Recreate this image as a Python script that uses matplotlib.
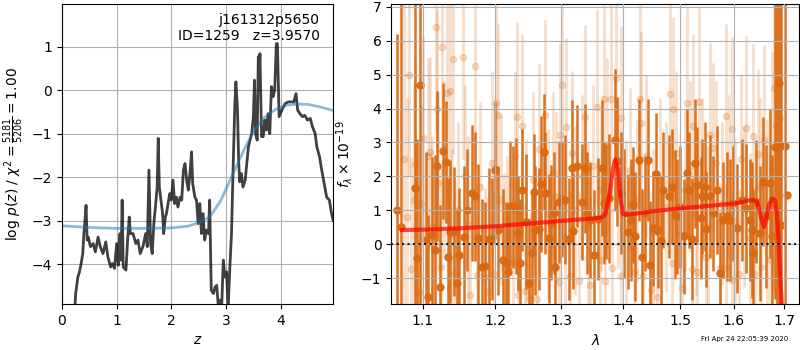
import matplotlib
matplotlib.use('Agg')
import matplotlib.pyplot as plt
from matplotlib.ticker import ScalarFormatter, NullLocator

# redshift fit, log p(z)
zgrid = [0.23, 0.25, 0.29, 0.32, 0.35, 0.38, 0.40, 0.42, 0.44, 0.46, 0.48, 0.52, 0.57, 0.61,
         0.66, 0.70, 0.75, 0.80, 0.84, 0.89, 0.92, 0.96, 1.00, 1.03, 1.06, 1.08, 1.10, 1.12,
         1.17, 1.20, 1.23, 1.25, 1.30, 1.35, 1.39, 1.43, 1.48, 1.53, 1.56, 1.59, 1.62, 1.65,
         1.68, 1.72, 1.74, 1.76, 1.78, 1.81, 1.84, 1.86, 1.89, 1.91, 1.94, 1.97, 2.00, 2.03,
         2.06, 2.09, 2.12, 2.16, 2.19, 2.22, 2.25, 2.28, 2.31, 2.34, 2.37, 2.39, 2.43, 2.46,
         2.49, 2.52, 2.55, 2.58, 2.61, 2.64, 2.68, 2.70, 2.73, 2.77, 2.80, 2.83, 2.86, 2.89,
         2.92, 2.95, 2.98, 3.01, 3.04, 3.07, 3.10, 3.13, 3.16, 3.18, 3.21, 3.23, 3.25, 3.28,
         3.31, 3.35, 3.38, 3.41, 3.44, 3.47, 3.50, 3.52, 3.54, 3.57, 3.59, 3.61, 3.62, 3.65,
         3.68, 3.71, 3.74, 3.77, 3.80, 3.83, 3.86, 3.89, 3.92, 3.94, 3.97, 4.02, 4.08, 4.14,
         4.20, 4.24, 4.28, 4.31, 4.35, 4.40, 4.44, 4.49, 4.54, 4.58, 4.63, 4.66, 4.71, 4.75,
         4.79, 4.84, 4.89, 4.93, 4.96]
logpz = [-5.10, -4.68, -4.30, -4.18, -3.99, -3.76, -3.30, -3.00, -2.65, -3.45, -3.38, -3.60,
         -3.53, -3.72, -3.38, -3.60, -3.76, -3.49, -3.84, -4.07, -3.99, -4.10, -3.53, -4.03,
         -3.30, -3.91, -2.53, -4.07, -4.14, -3.45, -2.92, -3.30, -3.30, -3.53, -3.45, -3.76,
         -3.60, -3.30, -3.60, -1.84, -3.53, -3.76, -3.07, -2.53, -2.23, -1.11, -2.23, -2.53,
         -2.84, -3.30, -2.92, -2.84, -2.61, -2.38, -2.53, -2.07, -2.61, -2.46, -2.69, -2.46,
         -2.53, -1.84, -1.69, -2.07, -2.30, -1.92, -1.42, -2.15, -2.46, -2.53, -3.07, -2.61,
         -3.30, -2.84, -3.45, -3.22, -3.30, -2.53, -4.60, -4.68, -4.53, -4.49, -5.00, -4.83,
         -5.00, -3.91, -4.30, -4.18, -5.00, -4.07, -3.30, -1.77, -0.38, 0.19, -0.46, -1.61,
         -2.11, -1.92, -2.23, -2.07, -1.69, -1.30, -1.15, -1.00, -0.61, 0.23, -1.00, -1.15,
         0.77, 0.54, 0.84, -1.07, -1.07, -0.69, -0.92, -0.54, -1.00, 0.08, -0.15, 0.00,
         1.07, 1.07, -0.61, -0.46, -0.31, -0.27, -0.27, -0.27, -0.08, -0.46, -0.54, -0.61,
         -0.58, -0.69, -0.65, -0.84, -1.00, -1.30, -1.53, -1.84, -2.11, -2.46, -2.53, -2.84,
         -3.00]

# prior
zprior = [0.0, 0.5, 1.0, 1.5, 2.0, 2.3, 2.5, 2.7, 2.9, 3.1, 3.3, 3.5, 3.7, 3.9, 4.1, 4.3,
          4.5, 4.7, 4.96]
logprior = [-3.12, -3.16, -3.18, -3.18, -3.17, -3.13, -3.05, -2.92, -2.55, -2.00, -1.45,
            -0.95, -0.63, -0.45, -0.35, -0.32, -0.33, -0.38, -0.47]

# 1D spectrum, first beam
wave_a = [1.066, 1.071, 1.090, 1.093, 1.097, 1.104, 1.107, 1.112, 1.116, 1.119,
          1.123, 1.127, 1.131, 1.134, 1.137, 1.142, 1.146, 1.149, 1.156, 1.160,
          1.167, 1.171, 1.175, 1.182, 1.186, 1.191, 1.195, 1.200, 1.205, 1.212,
          1.216, 1.219, 1.222, 1.227, 1.231, 1.234, 1.237, 1.240, 1.245, 1.250,
          1.254, 1.257, 1.260, 1.265, 1.269, 1.273, 1.275, 1.281, 1.284, 1.288,
          1.290, 1.296, 1.301, 1.305, 1.312, 1.317, 1.319, 1.325, 1.332, 1.337,
          1.341, 1.346, 1.352, 1.358, 1.365, 1.368, 1.372, 1.376, 1.386, 1.390,
          1.396, 1.402, 1.408, 1.413, 1.417, 1.421, 1.428, 1.432, 1.438, 1.442,
          1.446, 1.452, 1.456, 1.461, 1.465, 1.470, 1.479, 1.485, 1.491, 1.495,
          1.500, 1.506, 1.512, 1.516, 1.521, 1.526, 1.530, 1.537, 1.540, 1.546,
          1.548, 1.555, 1.561, 1.567, 1.574, 1.580, 1.586, 1.593, 1.599, 1.607,
          1.615, 1.624, 1.631, 1.635, 1.638, 1.644, 1.652, 1.658, 1.663, 1.671,
          1.676, 1.681, 1.685, 1.690, 1.694, 1.701, 1.706]
flux_a = [1.00, 0.50, 1.65, -0.41, 4.70, 0.13, -1.54, 0.28, -0.17, 2.31,
          -1.25, 2.75, 2.42, -0.36, 0.37, 0.37, -1.15, -0.33, 0.21, 1.01,
          1.52, 1.41, 0.18, -0.66, -0.64, 0.16, 0.15, 2.19, 0.42, -0.46,
          -0.56, -0.81, 1.13, 1.11, 1.13, 0.32, -0.56, 1.60, 0.67, -1.15,
          -0.27, 1.55, 0.42, 0.44, 1.77, 2.73, 1.50, 0.18, 0.64, 0.91,
          -0.66, 1.25, 1.33, 1.31, 0.15, 2.24, 0.39, 2.31, 1.25, 2.24,
          0.91, 0.72, -0.31, 0.74, 2.24, 1.21, 1.26, 1.36, 3.08, 2.44,
          1.50, 0.91, 0.37, 0.72, 1.16, 0.23, 2.49, -0.36, 0.91, 2.49,
          -0.61, 0.47, 2.06, 0.42, 0.11, 1.60, 1.41, 1.70, 0.87, 0.82,
          1.11, 0.23, 2.09, 1.60, 0.15, 2.39, 1.75, 0.77, 1.41, 1.70,
          0.44, 1.41, 0.91, 1.60, -0.86, 0.72, 0.82, 0.72, 1.21, 0.47,
          1.31, 1.06, 0.72, 0.42, -0.27, 1.26, 0.32, 1.85, 0.82, 1.80,
          0.23, 2.88, 2.88, 4.75, 0.57, 2.90, 1.45]
err_a = [5.2, 9.0, 6.0, 3.5, 6.5, 2.6, 2.4, 2.3, 2.8, 2.2,
         2.4, 2.0, 1.8, 2.3, 2.1, 1.9, 2.2, 2.0, 2.1, 1.8,
         2.0, 1.9, 2.2, 2.0, 1.9, 2.1, 1.8, 2.0, 1.9, 2.1,
         1.8, 2.0, 1.9, 1.8, 2.0, 1.7, 1.9, 1.8, 2.0, 1.9,
         1.8, 1.7, 1.9, 1.8, 2.0, 1.7, 1.8, 1.9, 1.7, 1.8,
         1.9, 1.8, 1.7, 1.9, 1.8, 2.0, 1.7, 1.8, 1.7, 1.9,
         1.8, 1.7, 1.9, 1.8, 2.0, 1.8, 1.7, 1.9, 2.1, 1.9,
         1.8, 1.9, 1.7, 1.8, 1.7, 1.9, 1.8, 2.0, 1.7, 1.8,
         1.9, 1.7, 1.8, 1.7, 1.9, 1.7, 1.8, 1.7, 1.9, 1.7,
         1.8, 1.7, 1.9, 1.7, 1.8, 1.9, 1.7, 1.8, 1.7, 1.9,
         1.7, 1.8, 1.7, 1.9, 1.8, 1.7, 1.9, 1.8, 1.7, 1.9,
         1.8, 1.9, 1.8, 2.0, 1.9, 1.8, 2.0, 1.9, 2.1, 2.2,
         2.4, 4.5, 8.0, 8.0, 8.0, 8.0, 0.0]

# second beam
wave_b = [1.075, 1.079, 1.0815, 1.085, 1.088, 1.090, 1.095, 1.098, 1.101, 1.107,
          1.109, 1.113, 1.118, 1.119, 1.121, 1.124, 1.126, 1.129, 1.132, 1.137,
          1.139, 1.141, 1.144, 1.148, 1.154, 1.158, 1.162, 1.165, 1.1715, 1.174,
          1.178, 1.185, 1.190, 1.195, 1.198, 1.2015, 1.205, 1.209, 1.213, 1.218,
          1.226, 1.229, 1.232, 1.234, 1.240, 1.244, 1.246, 1.252, 1.256, 1.262,
          1.266, 1.274, 1.279, 1.287, 1.292, 1.296, 1.298, 1.301, 1.305, 1.307,
          1.314, 1.317, 1.322, 1.327, 1.333, 1.337, 1.342, 1.345, 1.350, 1.357,
          1.361, 1.364, 1.368, 1.370, 1.374, 1.380, 1.382, 1.389, 1.392, 1.396,
          1.397, 1.405, 1.412, 1.419, 1.424, 1.429, 1.431, 1.435, 1.440, 1.448,
          1.452, 1.458, 1.463, 1.474, 1.482, 1.486, 1.4875, 1.493, 1.500, 1.504,
          1.509, 1.513, 1.518, 1.522, 1.524, 1.528, 1.531, 1.535, 1.540, 1.548,
          1.551, 1.555, 1.561, 1.566, 1.574, 1.578, 1.584, 1.585, 1.590, 1.596,
          1.597, 1.603, 1.609, 1.614, 1.620, 1.624, 1.631, 1.638, 1.642, 1.647,
          1.651, 1.654, 1.660, 1.665, 1.671, 1.676, 1.680, 1.684, 1.688, 1.692]
flux_b = [2.50, 0.80, 5.00, -0.74, 1.30, 2.36, -1.40, 1.20, 3.13, 2.60,
          2.73, 0.50, 6.40, 4.00, 1.80, -0.66, 5.81, 2.20, 4.47, 4.53,
          0.30, 5.46, -0.85, 1.00, 5.52, 2.00, 0.60, -1.49, 5.26, -0.90,
          1.70, -0.95, -1.40, 2.40, -0.87, 4.16, 3.80, 1.30, -0.51, 0.10,
          -0.51, 2.60, 3.75, -1.49, 3.49, -1.38, 0.70, -1.59, 1.90, -1.62,
          2.80, 3.82, 0.90, 2.10, 1.40, -1.10, 3.22, 4.68, 0.20, 3.47,
          -0.93, 2.70, 1.00, -1.07, 2.00, 3.75, 0.50, -1.20, 2.30, 4.04,
          -0.46, 1.60, 4.28, -1.08, 2.90, 4.28, -0.69, 4.90, 1.80, -0.93,
          3.72, 0.60, 2.20, -0.81, 1.30, 4.28, 3.57, -0.93, 2.60, -1.35,
          0.40, -1.54, 1.90, 1.10, 4.42, -0.56, 4.00, 2.70, 0.30, -1.28,
          1.60, 4.16, 2.30, -0.74, 3.49, 0.90, -0.81, 4.19, 1.90, -0.36,
          0.50, 3.22, 2.85, 2.40, -0.69, 1.20, 3.78, -0.71, 2.00, 3.40,
          -1.05, 0.70, -0.88, 2.50, 1.10, 3.44, 0.20, 3.20, -0.88, 2.66,
          1.70, -0.66, 3.08, 0.80, -0.46, 2.20, 4.60, 3.50, 5.50, 3.72]
err_b = [5.0, 3.5, 3.0, 3.3, 3.5, 3.1, 3.1, 2.9, 3.0, 2.9,
         2.8, 2.7, 3.1, 2.9, 2.7, 2.8, 3.0, 2.6, 2.9, 3.1,
         2.5, 2.8, 2.7, 2.6, 3.0, 2.7, 2.6, 2.8, 3.1, 2.7,
         2.5, 2.6, 2.8, 2.7, 2.5, 2.9, 2.7, 2.5, 2.6, 2.5,
         2.7, 2.5, 2.8, 2.5, 2.7, 2.6, 2.4, 2.5, 2.6, 2.7,
         2.5, 2.8, 2.5, 2.4, 2.5, 2.6, 2.7, 2.9, 2.5, 2.6,
         2.5, 2.4, 2.5, 2.6, 2.4, 2.7, 2.5, 2.6, 2.4, 2.9,
         2.5, 2.4, 2.8, 2.5, 2.6, 2.9, 2.5, 2.8, 2.5, 2.6,
         2.7, 2.5, 2.4, 2.5, 2.4, 2.8, 2.7, 2.5, 2.4, 2.6,
         2.4, 2.5, 2.4, 2.5, 2.8, 2.5, 2.7, 2.4, 2.5, 2.6,
         2.4, 2.8, 2.5, 2.6, 2.7, 2.4, 2.5, 2.8, 2.4, 2.5,
         2.4, 2.7, 2.5, 2.4, 2.5, 2.4, 2.7, 2.5, 2.4, 2.7,
         2.6, 2.4, 2.5, 2.5, 2.4, 2.7, 2.5, 2.7, 2.6, 2.5,
         2.6, 2.7, 2.8, 2.9, 3.1, 3.5, 6.0, 8.0, 7.0, 5.0]

# best-fit model
wave_model = [1.073, 1.100, 1.150, 1.200, 1.250, 1.300, 1.350, 1.362, 1.370, 1.378,
              1.383, 1.387, 1.392, 1.396, 1.400, 1.404, 1.412, 1.450, 1.500, 1.550,
              1.600, 1.612, 1.625, 1.638, 1.645, 1.650, 1.655, 1.659, 1.664, 1.670,
              1.676, 1.681, 1.685, 1.689, 1.692, 1.696]
flux_model = [0.42, 0.43, 0.47, 0.53, 0.61, 0.69, 0.76, 0.78, 0.85, 1.50,
              2.20, 2.50, 2.20, 1.30, 0.90, 0.87, 0.88, 0.97, 1.06, 1.13,
              1.20, 1.23, 1.28, 1.31, 1.25, 1.00, 0.70, 0.50, 0.80, 1.20,
              1.35, 1.30, 0.90, 0.00, -1.00, -2.00]

root, obj_id, zbest = 'j161312p5650', 1259, 3.9570
chi2, dof = 5181, 5206
stamp = 'Fri Apr 24 22:05:39 2020'

orange = '#d96a12'

fig = plt.figure(figsize=(8, 3.5), dpi=100)

# p(z) panel
ax = fig.add_axes([0.0775, 0.1314, 0.339, 0.857])
ax.plot(zgrid, logpz, color='k', alpha=0.75, lw=2)
ax.plot(zprior, logprior, color='C0', alpha=0.5, lw=2)
ax.set_xlim(0, 4.96)
ax.set_ylim(-4.92, 1.98)
ax.set_xticks([0, 1, 2, 3, 4])
ax.set_yticks([-4, -3, -2, -1, 0, 1])
ax.grid()
ax.set_xlabel('$z$')
ax.set_ylabel(r'log $p(z)$ / $\chi^2=\frac{%d}{%d}=%.2f$' % (chi2, dof, chi2 / dof))
ax.text(0.95, 0.97, '%s\nID=%d   z=%.4f' % (root, obj_id, zbest),
        ha='right', va='top', transform=ax.transAxes, fontsize=10)

# spectrum panel
ax = fig.add_axes([0.489, 0.1314, 0.51, 0.857])
ax.errorbar(wave_b, flux_b, yerr=err_b, color=orange, alpha=0.22, marker='o',
            ms=4.5, linestyle='None', elinewidth=2, zorder=1)
ax.errorbar(wave_a, flux_a, yerr=err_a, color=orange, alpha=0.95, marker='o',
            ms=5, linestyle='None', elinewidth=1.8, zorder=2)
ax.plot(wave_model, flux_model, color='r', alpha=0.7, lw=3, zorder=4)
ax.axhline(0, color='k', linestyle=':', lw=1.5, alpha=0.85, zorder=5)

ax.set_xscale('log')
ax.set_xlim(1.059, 1.731)
ax.set_ylim(-1.76, 7.08)
ax.set_xticks([1.1, 1.2, 1.3, 1.4, 1.5, 1.6, 1.7])
ax.xaxis.set_major_formatter(ScalarFormatter())
ax.xaxis.set_minor_locator(NullLocator())
ax.set_yticks([-1, 0, 1, 2, 3, 4, 5, 6, 7])
ax.set_axisbelow(False)
ax.grid()
ax.set_xlabel(r'$\lambda$')
ax.set_ylabel(r'$f_\lambda \times 10^{-19}$')

fig.text(0.985, 0.022, stamp, ha='right', va='bottom', fontsize=5)

fig.savefig('out.png', dpi=100)
